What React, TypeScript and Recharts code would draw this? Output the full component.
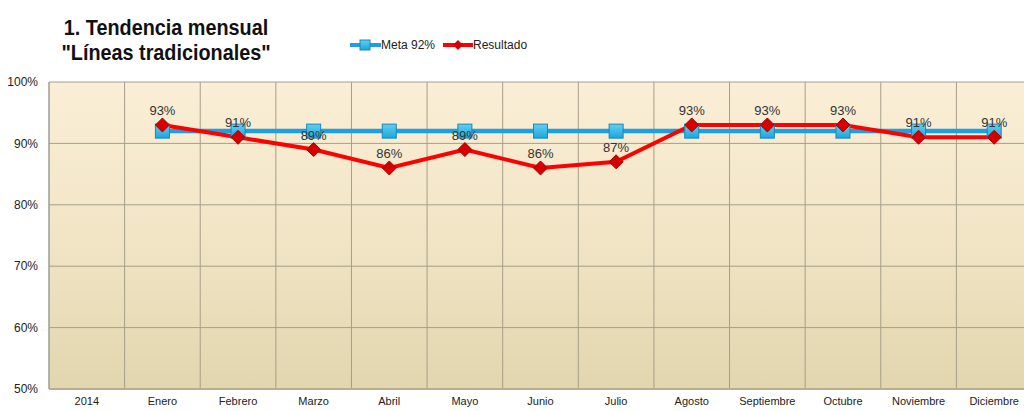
import React from 'react';
import { LineChart, Line, XAxis, YAxis, CartesianGrid, LabelList, Legend } from 'recharts';

const categories = ['2014', 'Enero', 'Febrero', 'Marzo', 'Abril', 'Mayo', 'Junio', 'Julio', 'Agosto', 'Septiembre', 'Octubre', 'Noviembre', 'Diciembre'];
const meta: (number | null)[] = [null, 92, 92, 92, 92, 92, 92, 92, 92, 92, 92, 92, 92];
const resultado: (number | null)[] = [null, 93, 91, 89, 86, 89, 86, 87, 93, 93, 93, 91, 91];
const yTicks = [50, 60, 70, 80, 90, 100];

const data = categories.map((c, i) => ({ name: c, meta: meta[i], resultado: resultado[i] }));

const FONT = "'Liberation Sans', Arial, sans-serif";

const SquareDot = (props: any) => {
  const { cx, cy, index } = props;
  if (cx == null || cy == null || props.value == null) return <g key={index} />;
  return (
    <rect key={index} x={cx - 7} y={cy - 7} width={14} height={14} fill="url(#sqGrad)" stroke="#1a86b8" strokeWidth={1} />
  );
};

const DiamondDot = (props: any) => {
  const { cx, cy, index } = props;
  if (cx == null || cy == null || props.value == null) return <g key={index} />;
  const r = 7;
  return (
    <polygon key={index} points={`${cx},${cy - r} ${cx + r},${cy} ${cx},${cy + r} ${cx - r},${cy}`} fill="#d40000" stroke="#b00000" strokeWidth={1} />
  );
};

const LegendContent = () => (
  <div style={{ display: 'flex', alignItems: 'center', fontFamily: FONT, fontSize: 12, color: '#222', whiteSpace: 'nowrap' }}>
    <svg width={31} height={14}>
      <line x1={0} y1={7} x2={31} y2={7} stroke="#1e9fe0" strokeWidth={4} />
      <rect x={10} y={2} width={10} height={10} fill="url(#sqGrad)" stroke="#1a86b8" />
    </svg>
    <span style={{ marginRight: 8 }}>Meta 92%</span>
    <svg width={30} height={14}>
      <line x1={0} y1={7} x2={30} y2={7} stroke="#ff0000" strokeWidth={4} />
      <polygon points="15,2 20,7 15,12 10,7" fill="#d40000" />
    </svg>
    <span>Resultado</span>
  </div>
);

export default function App() {
  return (
    <div style={{ position: 'absolute', left: 0, top: 0, width: 1024, height: 411, overflow: 'hidden', background: '#fff' }}>
      <div style={{ position: 'absolute', left: 16, top: 15, width: 300, textAlign: 'center', fontFamily: FONT, fontWeight: 'bold', fontSize: 22, lineHeight: '25px', color: '#111', transform: 'scaleX(0.9)', transformOrigin: '150px 0' }}>
        1. Tendencia mensual<br />"Líneas tradicionales"
      </div>
      <LineChart width={1036} height={411} data={data} margin={{ top: 82, right: 4, bottom: 0, left: 9 }}>
        <defs>
          <linearGradient id="bgGrad" x1="0" y1="0" x2="0" y2="1">
            <stop offset="0%" stopColor="#faeed6" />
            <stop offset="50%" stopColor="#f2e5c6" />
            <stop offset="100%" stopColor="#e2d6af" />
          </linearGradient>
          <linearGradient id="sqGrad" x1="0" y1="0" x2="0" y2="1">
            <stop offset="0%" stopColor="#5fd0f2" />
            <stop offset="100%" stopColor="#1da6dc" />
          </linearGradient>
        </defs>
        <CartesianGrid
          fill="url(#bgGrad)"
          stroke="#a59e8a"
          strokeWidth={1}
          verticalCoordinatesGenerator={({ offset }: any) =>
            categories.map((_, i) => offset.left + (i * offset.width) / categories.length)
          }
        />
        <XAxis
          dataKey="name"
          scale="band"
          axisLine={{ stroke: '#b8ad8c', strokeWidth: 2 }}
          tickLine={false}
          height={22}
          interval={0}
          tick={{ fontFamily: FONT, fontSize: 11, fill: '#222' }}
        />
        <YAxis
          domain={[50, 100]}
          ticks={yTicks}
          width={40}
          axisLine={{ stroke: '#9a9a9a' }}
          tickLine={false}
          tickMargin={5}
          tickFormatter={(v: number) => `${v}%`}
          tick={{ fontFamily: FONT, fontSize: 12, fill: '#222' }}
        />
        <Legend verticalAlign="middle" align="center" content={<LegendContent />} wrapperStyle={{ position: 'absolute', left: 350, top: 38, width: 200 }} />
        <Line
          type="linear"
          dataKey="meta"
          name="Meta 92%"
          stroke="#1e9fe0"
          strokeWidth={4.5}
          dot={<SquareDot />}
          activeDot={false}
          isAnimationActive={false}
        />
        <Line
          type="linear"
          dataKey="resultado"
          name="Resultado"
          stroke="#ff0000"
          strokeWidth={4}
          dot={<DiamondDot />}
          activeDot={false}
          isAnimationActive={false}
        >
          <LabelList dataKey="resultado" position="top" offset={10} formatter={(v: any) => (v == null ? '' : `${v}%`)} style={{ fontFamily: FONT, fontSize: 13, fill: '#333' }} />
        </Line>
      </LineChart>
    </div>
  );
}
